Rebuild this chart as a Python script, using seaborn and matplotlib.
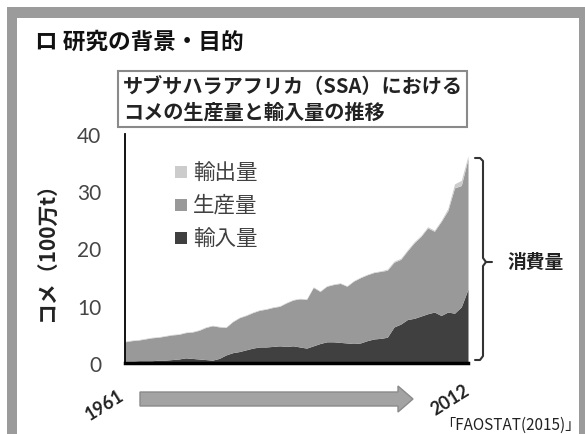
import matplotlib
matplotlib.use("Agg")
import matplotlib.pyplot as plt
from matplotlib.patches import Rectangle, Polygon
from matplotlib.lines import Line2D
import seaborn as sns
import pandas as pd

# SSA rice balance, million tonnes, 1961-2012
years = list(range(1961, 2013))
imports = [0.3, 0.3, 0.4, 0.4, 0.4, 0.5, 0.5, 0.6, 0.7, 0.9,
           0.8, 0.7, 0.6, 0.5, 0.8, 1.4, 1.8, 2.0, 2.3, 2.6,
           2.8, 2.8, 2.9, 3.0, 2.9, 3.0, 2.8, 2.6, 3.0, 3.4,
           3.7, 3.7, 3.6, 3.5, 3.4, 3.5, 3.9, 4.2, 4.3, 4.5,
           6.3, 6.8, 7.6, 7.8, 8.2, 8.6, 8.9, 8.3, 8.9, 8.7,
           9.8, 12.9]
production = [3.4, 3.6, 3.6, 3.8, 4.0, 4.0, 4.2, 4.3, 4.3, 4.4,
              4.6, 5.0, 5.6, 6.0, 5.5, 4.8, 5.4, 5.9, 6.0, 6.2,
              6.4, 6.6, 6.8, 6.9, 7.6, 8.0, 8.4, 8.5, 10.2, 9.1,
              9.7, 10.0, 10.3, 9.9, 10.9, 11.4, 11.5, 11.6, 11.7, 11.7,
              11.3, 11.3, 12.0, 13.2, 13.9, 15.0, 14.1, 16.4, 17.7, 21.9,
              21.2, 22.8]
exports = [0.1, 0.1, 0.1, 0.1, 0.1, 0.1, 0.1, 0.1, 0.1, 0.1,
           0.1, 0.1, 0.1, 0.1, 0.1, 0.1, 0.1, 0.1, 0.1, 0.1,
           0.1, 0.1, 0.1, 0.1, 0.1, 0.1, 0.1, 0.1, 0.1, 0.1,
           0.1, 0.1, 0.1, 0.1, 0.1, 0.1, 0.1, 0.1, 0.1, 0.2,
           0.2, 0.2, 0.2, 0.2, 0.2, 0.2, 0.2, 0.2, 0.4, 0.7,
           0.9, 0.5]
series_labels = ["輸入量", "生産量", "輸出量"]
series_colors = ["#404040", "#999999", "#cccccc"]
yticks = [0, 10, 20, 30, 40]

df = pd.DataFrame({"year": years, "輸入量": imports,
                   "生産量": production, "輸出量": exports})

sns.set_theme(style="white")
plt.rcParams["font.family"] = ["Noto Sans CJK JP", "DejaVu Sans"]

W, H = 585, 435
fig = plt.figure(figsize=(W / 100, H / 100), dpi=100)
fig.patch.set_facecolor("white")


def fx(x):
    return x / W


def fy(y):
    return 1 - y / H


# slide frame
frame_color = "#9b9b9b"
for (x0, y0, x1, y1) in [(7, 8, 585, 19), (7, 8, 17, 435), (579, 8, 585, 435)]:
    fig.add_artist(Rectangle((fx(x0), fy(y1)), fx(x1) - fx(x0), fy(y0) - fy(y1),
                             transform=fig.transFigure, color=frame_color, lw=0))

# heading
fig.text(fx(35), fy(42), "ロ 研究の背景・目的", fontsize=16.3, fontweight="bold",
         ha="left", va="center", color="#111111")

# boxed subtitle
fig.add_artist(Rectangle((fx(118), fy(128)), fx(467) - fx(118), fy(72) - fy(128),
                         transform=fig.transFigure, facecolor="white",
                         edgecolor="#8a8a8a", lw=1.5))
fig.text(fx(123), fy(87), "サブサハラアフリカ（SSA）における", fontsize=14.5,
         fontweight="bold", ha="left", va="center", color="#222222")
fig.text(fx(123), fy(112), "コメの生産量と輸入量の推移", fontsize=14.5,
         fontweight="bold", ha="left", va="center", color="#222222")

# stacked area chart
ax = fig.add_axes([fx(125), fy(364), fx(468) - fx(125), fy(135) - fy(364)])
ax.stackplot(df["year"], df["輸入量"], df["生産量"], df["輸出量"],
             colors=series_colors, linewidth=0)
ax.set_xlim(1961, 2012)
ax.set_ylim(0, 40)
ax.set_yticks(yticks)
ax.set_xticks([])
sns.despine(ax=ax)
ax.spines["left"].set_color("black")
ax.spines["left"].set_linewidth(1.3)
ax.spines["bottom"].set_color("black")
ax.spines["bottom"].set_linewidth(2.5)
ax.tick_params(axis="y", direction="in", length=7, width=1.3, color="black",
               pad=17, labelsize=15, labelcolor="#454545")
for lab in ax.get_yticklabels():
    lab.set_family("Lato")
ax.set_facecolor("white")

fig.text(fx(47), fy(247), "コメ（100万t）", rotation=90, fontsize=15,
         fontweight="bold", ha="center", va="center", color="#222222")

# legend
for i, (lab, col) in enumerate(zip(series_labels[::-1], series_colors[::-1])):
    yc = 173 + i * 33
    fig.add_artist(Rectangle((fx(175), fy(yc + 6)), fx(187) - fx(175), fy(yc - 6) - fy(yc + 6),
                             transform=fig.transFigure, color=col, lw=0))
    fig.text(fx(193), fy(yc), lab, fontsize=15.5, ha="left", va="center",
             color="#404040")

# consumption brace
brace_upper = [(475, 159), (480, 159), (483, 162), (483, 259), (486, 263), (492, 263)]
brace_lower = [(486, 263), (483, 267), (483, 357), (480, 361), (475, 361)]
for pts in (brace_upper, brace_lower):
    fig.add_artist(Line2D([fx(p[0]) for p in pts], [fy(p[1]) for p in pts],
                          transform=fig.transFigure, color="#333333", lw=1.5))
fig.text(fx(536), fy(262), "消費量", fontsize=13.5, ha="center", va="center",
         color="#222222", fontweight="bold")

# time arrow
arrow_pts = [(140, 393), (398, 393), (398, 387), (413, 400), (398, 413), (398, 407), (140, 407)]
fig.add_artist(Polygon([(fx(x), fy(y)) for x, y in arrow_pts], closed=True,
                       transform=fig.transFigure, facecolor="#a3a3a3",
                       edgecolor="#8a8a8a", lw=1))
fig.text(fx(105), fy(405), str(years[0]), rotation=32, fontsize=13,
         fontweight="bold", ha="center", va="center", color="#222222",
         family=["Lato", "DejaVu Sans"])
fig.text(fx(450), fy(400), str(years[-1]), rotation=32, fontsize=13,
         fontweight="bold", ha="center", va="center", color="#222222",
         family=["Lato", "DejaVu Sans"])
fig.text(fx(581), fy(425), "「FAOSTAT(2015)」", fontsize=11, ha="right",
         va="center", color="#222222")

fig.savefig("out.png", dpi=100, facecolor="white")
